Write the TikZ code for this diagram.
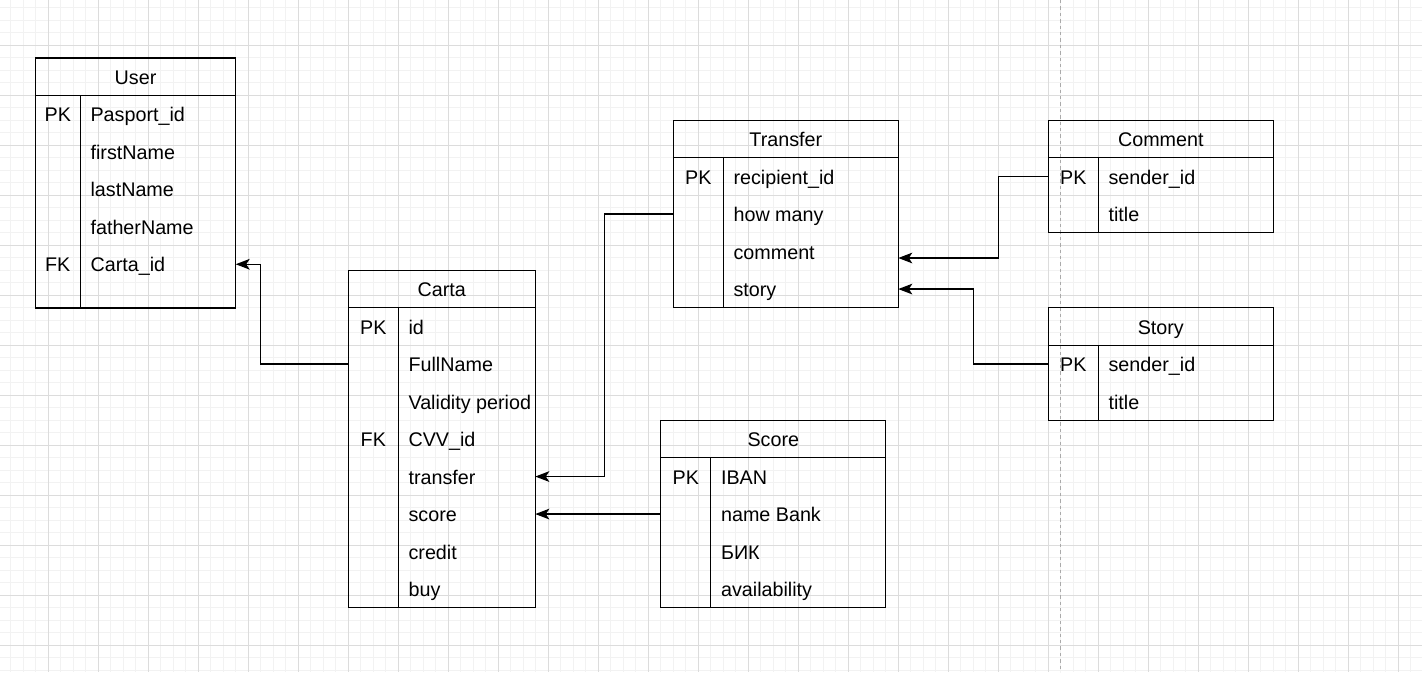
\documentclass[tikz,border=0pt]{standalone}
\usepackage{fontspec}
\setmainfont{Liberation Sans}
\usetikzlibrary{arrows.meta}
\definecolor{gridminor}{HTML}{F2F2F2}
\definecolor{gridmajor}{HTML}{DCDCDC}
\definecolor{guide}{HTML}{AAAAAA}
\newcommand\erfont{\fontsize{14.8}{17}\selectfont}
\tikzset{
  tablebox/.style={draw=black, line width=0.95pt, inner sep=0pt, outer sep=0pt, rectangle},
  rulel/.style={draw=black, line width=0.95pt},
  titletxt/.style={inner sep=0pt, anchor=base, font=\erfont},
  keytxt/.style={inner sep=0pt, anchor=base, font=\erfont},
  fieldtxt/.style={inner sep=0pt, anchor=base west, font=\erfont},
  conn/.style={draw=black, line width=0.95pt, -{Stealth[length=10.5pt,width=8pt,inset=2.6pt]}},
  minorgrid/.style={draw=gridminor, line width=0.75pt},
  majorgrid/.style={draw=gridmajor, line width=0.75pt},
  guideline/.style={draw=guide, line width=0.75pt, dash pattern=on 2.6pt off 2.2pt},
}
% \erTable{name}{w}{h}{divider}{title}
\newcommand\erTable[5]{%
  \node[tablebox, anchor=north west, minimum width=#2*0.75pt, minimum height=#3*0.75pt] (#1) at (0,0) {};
  \node[titletxt] (#1-title) at ({#2/2},26.25) {#5};
  \draw[rulel] (0,37.5) -- (#2,37.5);
  \draw[rulel] (#4,37.5) -- (#4,#3);
}
% \erRow{table}{i}{w}{div}{key}{text}
\newcommand\erRow[6]{%
  \coordinate (#1-r#2w) at (0,{37.5*#2+18.75});
  \coordinate (#1-r#2e) at (#3,{37.5*#2+18.75});
  \node[fieldtxt] (#1-f#2) at ({#4+10},{37.5*#2+26.25}) {#6};
  \if\relax\detokenize{#5}\relax\else
    \node[keytxt] (#1-k#2) at ({#4/2},{37.5*#2+26.25}) {#5};
  \fi
}
\begin{document}
\begin{tikzpicture}[x=0.75pt,y=-0.75pt]
\useasboundingbox (0,0) rectangle (1422,672);
\fill[white] (0,0) rectangle (1422,672);
\begin{scope}
\clip (0,0) rectangle (1422,672);
\foreach \k in {0,...,112} \draw[minorgrid] ({10.8+12.5*\k},0) -- ({10.8+12.5*\k},672);
\foreach \k in {0,...,53} \draw[minorgrid] (0,{7.8+12.5*\k}) -- (1422,{7.8+12.5*\k});
\foreach \k in {0,...,27} \draw[majorgrid] ({48.3+50*\k},0) -- ({48.3+50*\k},672);
\foreach \k in {0,...,12} \draw[majorgrid] (0,{45.3+50*\k}) -- (1422,{45.3+50*\k});
\coordinate (guideTop) at (1060.5,0);
\coordinate (guideBot) at (1060.5,672);
\draw[guideline] (guideTop) -- (guideBot);
\end{scope}

% User
\begin{scope}[shift={(35.3,58)}]
\erTable{user}{200.4}{250}{45}{User}
\erRow{user}{1}{200.4}{45}{PK}{Pasport\_id}
\erRow{user}{2}{200.4}{45}{}{firstName}
\erRow{user}{3}{200.4}{45}{}{lastName}
\erRow{user}{4}{200.4}{45}{}{fatherName}
\erRow{user}{5}{200.4}{45}{FK}{Carta\_id}
\end{scope}

% Carta
\begin{scope}[shift={(348.3,270.3)}]
\erTable{carta}{187}{337.5}{50}{Carta}
\erRow{carta}{1}{187}{50}{PK}{id}
\erRow{carta}{2}{187}{50}{}{FullName}
\erRow{carta}{3}{187}{50}{}{Validity period}
\erRow{carta}{4}{187}{50}{FK}{CVV\_id}
\erRow{carta}{5}{187}{50}{}{transfer}
\erRow{carta}{6}{187}{50}{}{score}
\erRow{carta}{7}{187}{50}{}{credit}
\erRow{carta}{8}{187}{50}{}{buy}
\end{scope}

% Transfer
\begin{scope}[shift={(673.3,120.3)}]
\erTable{transfer}{225}{187.5}{50}{Transfer}
\erRow{transfer}{1}{225}{50}{PK}{recipient\_id}
\erRow{transfer}{2}{225}{50}{}{how many}
\erRow{transfer}{3}{225}{50}{}{comment}
\erRow{transfer}{4}{225}{50}{}{story}
\end{scope}

% Comment
\begin{scope}[shift={(1048.3,120.3)}]
\erTable{comment}{225}{112.5}{50}{Comment}
\erRow{comment}{1}{225}{50}{PK}{sender\_id}
\erRow{comment}{2}{225}{50}{}{title}
\end{scope}

% Story
\begin{scope}[shift={(1048.3,307.8)}]
\erTable{story}{225}{112.5}{50}{Story}
\erRow{story}{1}{225}{50}{PK}{sender\_id}
\erRow{story}{2}{225}{50}{}{title}
\end{scope}

% Score
\begin{scope}[shift={(660.8,420.3)}]
\erTable{score}{225}{187.5}{50}{Score}
\erRow{score}{1}{225}{50}{PK}{IBAN}
\erRow{score}{2}{225}{50}{}{name Bank}
\erRow{score}{3}{225}{50}{}{БИК}
\erRow{score}{4}{225}{50}{}{availability}
\end{scope}

% connectors
\coordinate (commentIn) at (898.3,258);
\draw[conn] (carta-r2w) -- ++(-88,0) |- (user-r5e);
\draw[conn] (transfer-r2w) -- ++(-69,0) |- (carta-r5e);
\draw[conn] (score-r2w) -- (carta-r6e);
\draw[conn] (comment-r1w) -- ++(-50,0) |- (commentIn);
\draw[conn] (story-r1w) -- ++(-75,0) |- (transfer-r4e);
\end{tikzpicture}
\end{document}
